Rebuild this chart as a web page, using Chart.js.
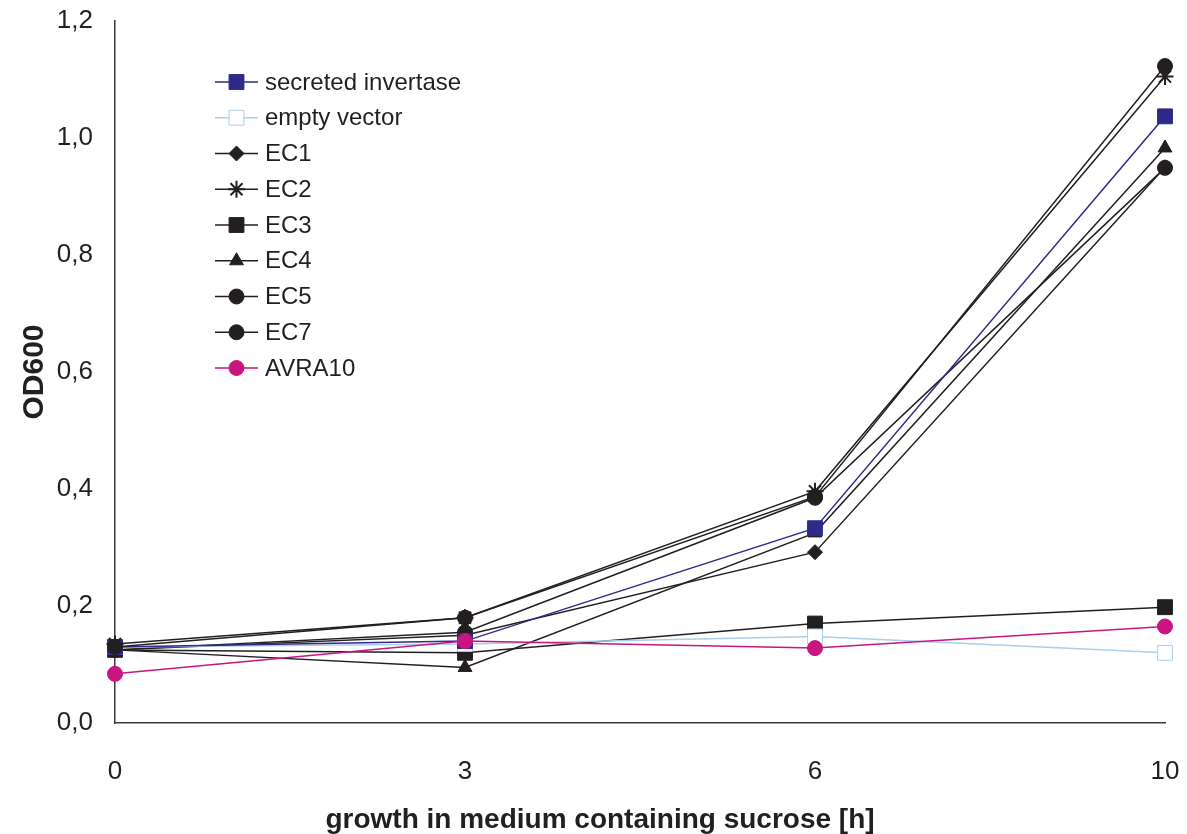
<!DOCTYPE html>
<html>
<head>
<meta charset="utf-8">
<title>OD600 growth on sucrose</title>
<script src="https://cdn.jsdelivr.net/npm/chart.js@4/dist/chart.umd.min.js"></script>
<style>
  html, body { margin: 0; padding: 0; background: #ffffff; }
  #wrap { width: 1187px; height: 834px; position: relative; }
</style>
</head>
<body>
<div id="wrap"><canvas id="c"></canvas></div>
<script>
// Sampling times (hours in sucrose medium)
const hours = ['0', '3', '6', '10'];

// OD600 readings per strain
const secretedInvertase = [0.130, 0.140, 0.333, 1.037];
const emptyVector       = [0.130, 0.135, 0.148, 0.120];
const ec1               = [0.125, 0.150, 0.292, 0.950];
const ec2               = [0.135, 0.180, 0.396, 1.105];
const ec3               = [0.125, 0.120, 0.170, 0.198];
const ec4               = [0.125, 0.095, 0.325, 0.983];
const ec5               = [0.130, 0.180, 0.387, 1.123];
const ec7               = [0.125, 0.155, 0.385, 0.949];
const avra10            = [0.084, 0.140, 0.128, 0.165];

const seriesNames = ['secreted invertase', 'empty vector', 'EC1', 'EC2', 'EC3', 'EC4', 'EC5', 'EC7', 'AVRA10'];
const xTitle = 'growth in medium containing sucrose [h]';

const INK = '#231f20';
const NAVY = '#2f2a8a';
const SKY = '#a9cfec';
const MAGENTA = '#c8157f';
const FONT = '"Liberation Sans", Arial, sans-serif';

function series(label, data, color, style, radius, fill, order) {
  return {
    label, data,
    borderColor: color,
    backgroundColor: fill,
    borderWidth: 1.5,
    pointStyle: style,
    pointRadius: radius,
    pointHoverRadius: radius,
    pointBorderColor: color,
    pointBackgroundColor: fill,
    pointBorderWidth: style === 'star' ? 2 : 1,
    tension: 0,
    fill: false,
    clip: false,
    order: order
  };
}

// lower order is painted later (on top)
const datasets = [
  series(seriesNames[0], secretedInvertase, NAVY, 'rect', 10.5, NAVY, 3),
  series(seriesNames[1], emptyVector, SKY, 'rect', 10.5, '#ffffff', 4),
  series(seriesNames[2], ec1, INK, 'rectRot', 7.5, INK, 6),
  series(seriesNames[3], ec2, INK, 'star', 8.5, INK, 2),
  series(seriesNames[4], ec3, INK, 'rect', 10.5, INK, 7),
  series(seriesNames[5], ec4, INK, 'triangle', 8, INK, 8),
  series(seriesNames[6], ec5, INK, 'circle', 7.5, INK, 1),
  series(seriesNames[7], ec7, INK, 'circle', 7.5, INK, 5),
  series(seriesNames[8], avra10, MAGENTA, 'circle', 7.5, MAGENTA, 0)
];

// Legend drawn inside the plot area, upper left
const insetLegend = {
  id: 'insetLegend',
  afterDraw(chart) {
    const ctx = chart.ctx;
    const x0 = 215, x1 = 258, tx = 265, y0 = 82, step = 35.75;
    ctx.save();
    chart.data.datasets.forEach((ds, i) => {
      const y = y0 + i * step;
      ctx.strokeStyle = ds.borderColor;
      ctx.lineWidth = 1.5;
      ctx.beginPath();
      ctx.moveTo(x0, y);
      ctx.lineTo(x1, y);
      ctx.stroke();
      ctx.fillStyle = ds.pointBackgroundColor;
      ctx.strokeStyle = ds.pointBorderColor;
      ctx.lineWidth = ds.pointBorderWidth;
      Chart.helpers.drawPoint(ctx, {
        pointStyle: ds.pointStyle,
        radius: ds.pointRadius,
        rotation: 0,
        borderWidth: ds.pointBorderWidth
      }, (x0 + x1) / 2, y);
      ctx.fillStyle = INK;
      ctx.font = '24px ' + FONT;
      ctx.textBaseline = 'middle';
      ctx.textAlign = 'left';
      ctx.fillText(ds.label, tx, y + 1);
    });
    ctx.restore();
  }
};

// Horizontal axis title, set slightly left of the plot centre
const xAxisTitle = {
  id: 'xAxisTitle',
  afterDraw(chart) {
    const ctx = chart.ctx;
    ctx.save();
    ctx.fillStyle = INK;
    ctx.font = 'bold 28px ' + FONT;
    ctx.textAlign = 'center';
    ctx.textBaseline = 'middle';
    ctx.fillText(xTitle, 600, 820);
    ctx.restore();
  }
};

new Chart(document.getElementById('c'), {
  type: 'line',
  data: { labels: hours, datasets },
  plugins: [insetLegend, xAxisTitle],
  options: {
    responsive: true,
    maintainAspectRatio: false,
    animation: false,
    layout: { autoPadding: false, padding: { top: 4, right: 8, bottom: 0, left: 0 } },
    plugins: {
      legend: { display: false },
      tooltip: { enabled: false }
    },
    scales: {
      x: {
        type: 'category',
        offset: false,
        grid: { display: false, drawTicks: false },
        border: { display: true, color: '#3a3a3a', width: 1.5 },
        ticks: {
          color: INK,
          padding: 33,
          maxRotation: 0,
          font: { family: FONT, size: 26 }
        },
        title: { display: false },
        afterFit(scale) {
          scale.height = 111;
          scale.paddingLeft = 0;
          scale.paddingRight = 22;
        }
      },
      y: {
        min: 0,
        max: 1.2,
        grid: { display: false, drawTicks: false },
        border: { display: true, color: '#3a3a3a', width: 1.5 },
        ticks: {
          stepSize: 0.2,
          color: INK,
          padding: 22,
          font: { family: FONT, size: 26 },
          callback: v => v.toFixed(1).replace('.', ',')
        },
        title: {
          display: true,
          text: 'OD600',
          color: INK,
          padding: { top: 17, bottom: 0 },
          font: { family: FONT, size: 30, weight: 'bold' }
        },
        afterFit(scale) {
          scale.width = 115;
          scale.paddingTop = 21;
          scale.paddingBottom = 0;
        }
      }
    }
  }
});
</script>
</body>
</html>
